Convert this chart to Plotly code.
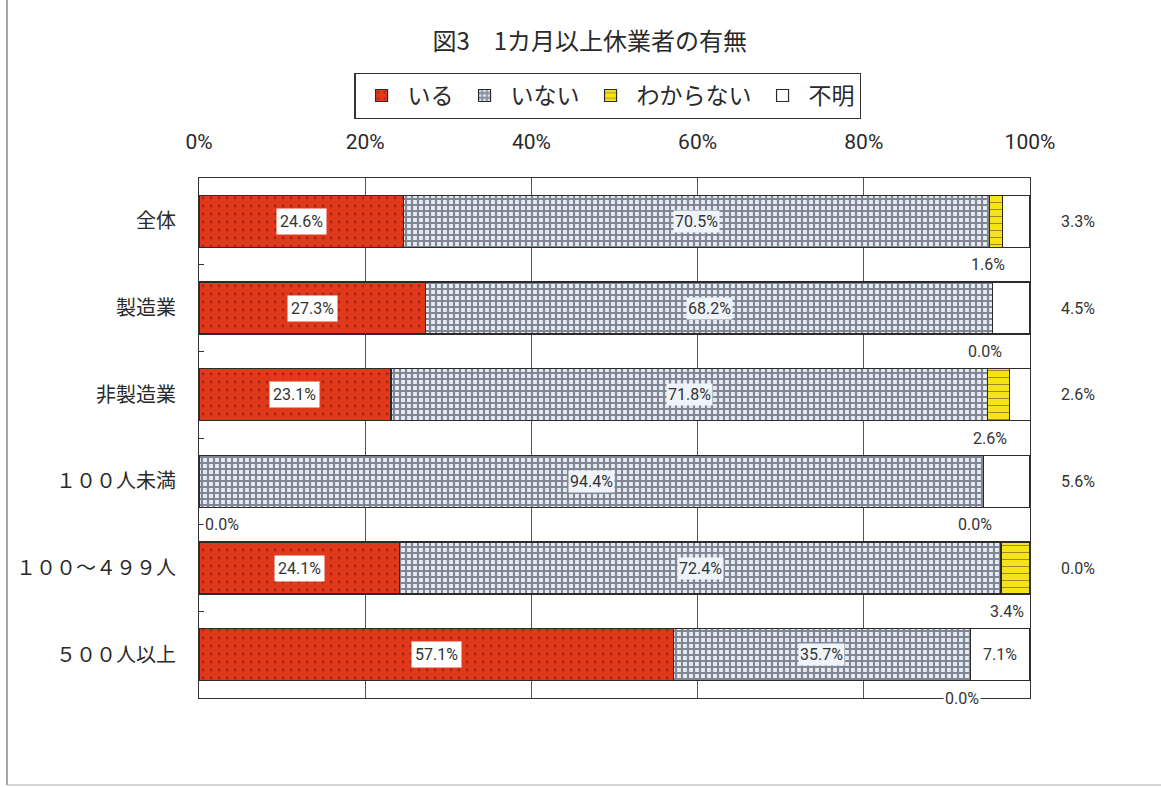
import plotly.graph_objects as go

categories = ["全体", "製造業", "非製造業", "１００人未満", "１００～４９９人", "５００人以上"]
iru = [24.6, 27.3, 23.1, 0.0, 24.1, 57.1]
inai = [70.5, 68.2, 71.8, 94.4, 72.4, 35.7]
wakaranai = [1.6, 0.0, 2.6, 0.0, 3.4, 0.0]
fumei = [3.3, 4.5, 2.6, 5.6, 0.0, 7.1]
series_names = ["いる", "いない", "わからない", "不明"]
x_ticks = [0, 20, 40, 60, 80, 100]
x_ticklabels = ["0%", "20%", "40%", "60%", "80%", "100%"]

# label placement for 不明 (outside right except last row)
fumei_inside = [False, False, False, False, False, True]

NUM_FONT = "Liberation Sans Narrow, Arial Narrow, Roboto, Liberation Sans, Arial, sans-serif"
JP_FONT = "Noto Sans CJK JP, Noto Sans, sans-serif"

fig = go.Figure()
styles = [
    dict(color="#E2381C", pattern=dict(shape=".", fgcolor="#5a1a10", size=8, solidity=0.1, fillmode="overlay")),
    dict(color="#E4ECF6", pattern=dict(shape="+", fgcolor="#1f1f30", size=6, solidity=0.6, fillmode="overlay")),
    dict(color="#F7E21A", pattern=dict(shape="-", fgcolor="#333333", size=7, solidity=0.15, fillmode="overlay")),
    dict(color="#FFFFFF"),
]
for name, vals, st in zip(series_names, [iru, inai, wakaranai, fumei], styles):
    fig.add_trace(go.Bar(
        y=categories, x=vals, name=name, orientation="h",
        marker=dict(line=dict(color="#2b2b2b", width=1.2), **st),
        width=0.6, hoverinfo="x+y+name",
    ))

ann = []
for i, cat in enumerate(categories):
    a, b, c, d = iru[i], inai[i], wakaranai[i], fumei[i]
    # いる
    if a > 0:
        ann.append(dict(x=a / 2, y=i, text=f"{a:.1f}%", bgcolor="white", borderpad=3))
    else:
        ann.append(dict(x=0, y=i + 0.5, text=f"{a:.1f}%", xanchor="left", xshift=4, bgcolor="white"))
    # いない
    ann.append(dict(x=a + b / 2, y=i, text=f"{b:.1f}%", bgcolor="#EEF4FA", borderpad=1))
    # わからない (below bar)
    ann.append(dict(x=a + b + c / 2, y=i + 0.5, text=f"{c:.1f}%", xshift=-8, bgcolor="white"))
    # 不明
    if fumei_inside[i]:
        ann.append(dict(x=a + b + c + d / 2, y=i, text=f"{d:.1f}%", bgcolor="white"))
    else:
        ann.append(dict(x=1.058, xref="paper", y=i, text=f"{d:.1f}%"))

for an in ann:
    an.setdefault("xref", "x")
    an.update(yref="y", showarrow=False,
              font=dict(family=NUM_FONT, size=16, color="#333333"))
    an.setdefault("xanchor", "center")

fig.update_layout(
    width=1161, height=787,
    margin=dict(l=199, r=131, t=178, b=89),
    paper_bgcolor="white", plot_bgcolor="white",
    barmode="stack", bargap=0.4,
    title=dict(text="図3　1カ月以上休業者の有無", x=0.508, xanchor="center", y=0.947, yanchor="middle",
               font=dict(family=JP_FONT, size=24, color="#2a2a2a")),
    legend=dict(orientation="h", x=0.492, xanchor="center", y=1.158, yanchor="middle",
                bordercolor="#333333", borderwidth=1.2, bgcolor="white",
                font=dict(family=JP_FONT, size=23, color="#2a2a2a"),
                itemwidth=42, traceorder="normal"),
    annotations=ann,
    showlegend=True,
    font=dict(family=JP_FONT, color="#333333"),
)
fig.update_xaxes(
    range=[0, 100], side="top", tickvals=x_ticks, ticktext=x_ticklabels,
    tickfont=dict(family=NUM_FONT, size=21, color="#2a2a2a"),
    showgrid=True, gridcolor="#555555", gridwidth=1,
    showline=True, linecolor="#333333", linewidth=1.2, mirror=True,
    ticks="", ticklabelstandoff=20, zeroline=False, fixedrange=True,
)
fig.update_yaxes(
    range=[5.5, -0.5], tickfont=dict(family=JP_FONT, size=20, color="#2a2a2a"),
    showline=True, linecolor="#333333", linewidth=1.2, mirror=True,
    ticks="inside", ticklen=5, tickcolor="#333333", tickson="boundaries",
    ticklabelstandoff=18, showgrid=False, fixedrange=True,
)

# outer frame lines (left and bottom) of the scanned page
fig.add_shape(type="line", xref="paper", yref="paper",
              x0=(7 - 199) / 831, x1=(7 - 199) / 831, y0=(698 - 785) / 520, y1=(698 - 0) / 520,
              line=dict(color="#888888", width=1.5))
fig.add_shape(type="line", xref="paper", yref="paper",
              x0=(7 - 199) / 831, x1=(1161 - 199) / 831, y0=(698 - 785) / 520, y1=(698 - 785) / 520,
              line=dict(color="#aaaaaa", width=1))

fig.write_html("out.html")
